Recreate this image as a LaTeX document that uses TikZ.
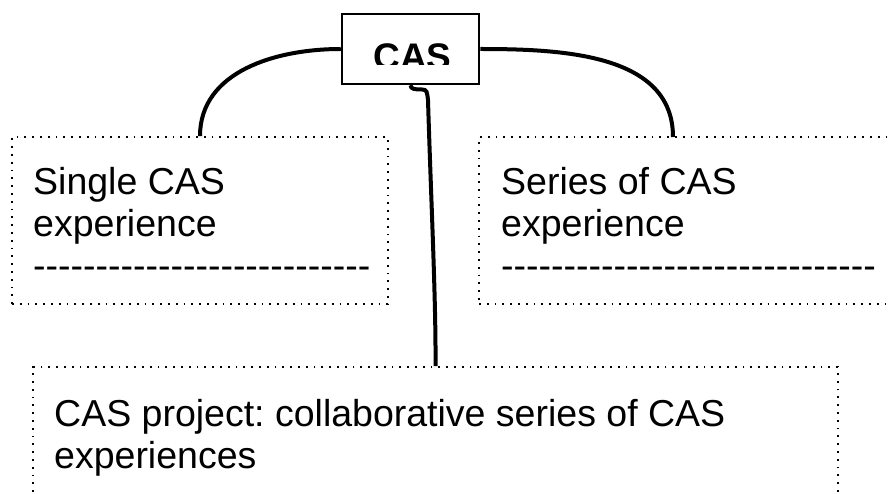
\documentclass[tikz,border=0pt]{standalone}
\usepackage{fontspec}
\setmainfont{Liberation Sans}[Ligatures=TeXOff]
\frenchspacing
\begin{document}
\begin{tikzpicture}[x=1pt,y=-1pt,
  casbox/.style={draw, line width=2.5pt, minimum width=137pt, minimum height=70pt, inner sep=0pt},
  dotbox/.style={draw, line width=1.8pt, dash pattern=on 1.8pt off 6pt, inner sep=0pt},
  conn/.style={line width=4pt},
  lbl/.style={anchor=base west, inner sep=0pt, align=left, font=\fontsize{37.5}{42}\selectfont}]
\useasboundingbox (0,0) rectangle (888,494);
\clip (0,0) rectangle (888,494);
% boxes
\node[casbox] (cas) at (410.5,49) {};
\node[dotbox, minimum width=376pt, minimum height=167pt] (single) at (200,220.5) {};
\node[dotbox, minimum width=421pt, minimum height=167pt] (series) at (689.5,220.5) {};
\node[dotbox, minimum width=805pt, minimum height=170pt] (project) at (435.5,452) {};
\coordinate (seriestop) at (673,137);
% CAS label (clipped at the bottom as in the reference)
\begin{scope}
\clip (342,14) rectangle (479,65);
\node[anchor=base, inner sep=0pt, font=\bfseries\fontsize{37}{42}\selectfont] (caslbl) at (412.5,69.5) {CAS};
\end{scope}
% texts (base anchor = baseline of the last line)
\node[lbl] (t1) at (33,278) {Single CAS\\experience\\---------------------------};
\node[lbl] (t2) at (501,278) {Series of CAS\\experience\\------------------------------};
\node[lbl] (t3) at (54,468) {CAS project: collaborative series of CAS\\experiences};
% connectors
\draw[conn] (cas.west) to[out=180,in=90] (single.north);
\draw[conn] (cas.east) to[out=0,in=90] (seriestop);
\draw[conn] (cas.south) .. controls (411,89) and (414,89.5) .. (422,89.5)
  .. controls (427,89.5) and (427,92) .. (428,100)
  .. controls (431,200) and (436,300) .. (project.north);
\end{tikzpicture}
\end{document}
